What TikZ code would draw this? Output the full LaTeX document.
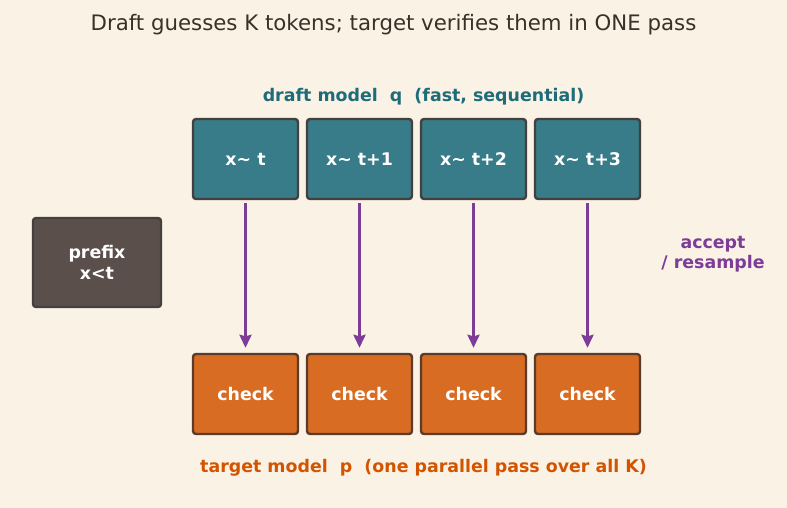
\documentclass[tikz,border=0pt]{standalone}
\usepackage{fontspec}
\setmainfont{DejaVu Sans}
\usetikzlibrary{arrows.meta}
\definecolor{bg}{HTML}{FAF2E4}
\definecolor{tealbox}{HTML}{377C88}
\definecolor{tealtxt}{HTML}{1E6B7A}
\definecolor{orangebox}{HTML}{D86C22}
\definecolor{orangetxt}{HTML}{D35400}
\definecolor{purp}{HTML}{7D3C98}
\definecolor{prefixbox}{HTML}{5B4F4B}
\definecolor{edge}{HTML}{444040}
\definecolor{edgeorange}{HTML}{5A3C2C}
\definecolor{titletxt}{HTML}{3A3028}
\tikzset{
  box/.style={draw=edge, line width=2.4pt, rounded corners=3pt, minimum width=105pt, minimum height=80pt, inner sep=0pt, text=white, font=\fontsize{17.4}{21}\selectfont\bfseries, align=center},
  draftbox/.style={box, fill=tealbox},
  checkbox/.style={box, fill=orangebox, draw=edgeorange},
  arr/.style={draw=purp, line width=2.6pt, -{Stealth[length=13pt,width=12pt,inset=1.5pt]}}
}
\begin{document}
\begin{tikzpicture}[x=1pt,y=-1pt]
\fill[bg] (0,0) rectangle (787,508);
\useasboundingbox (0,0) rectangle (787,508);
\node[text=titletxt, font=\fontsize{21.3}{25}\selectfont] (title) at (393.5,25) {Draft guesses K tokens; target verifies them in ONE pass};
\node[text=tealtxt, font=\fontsize{17.4}{21}\selectfont\bfseries] (dlabel) at (423.5,97) {draft model\ \ q\ \ (fast, sequential)};
\node[text=orangetxt, font=\fontsize{17.4}{21}\selectfont\bfseries] (tlabel) at (423.5,468) {target model\ \ p\ \ (one parallel pass over all K)};
\node[box, fill=prefixbox, draw=edge, minimum width=128pt, minimum height=89pt] (prefix) at (97,262.5) {prefix\\x<t};
\node[text=purp, font=\fontsize{17.4}{20}\selectfont\bfseries, align=center] (acc) at (713,254) {accept\\/ resample};
\node[draftbox] (d1) at (245.5,159) {x\char`~{} t};
\node[draftbox] (d2) at (359.5,159) {x\char`~{} t+1};
\node[draftbox] (d3) at (473.5,159) {x\char`~{} t+2};
\node[draftbox] (d4) at (587.5,159) {x\char`~{} t+3};
\node[checkbox] (c1) at (245.5,394) {check};
\node[checkbox] (c2) at (359.5,394) {check};
\node[checkbox] (c3) at (473.5,394) {check};
\node[checkbox] (c4) at (587.5,394) {check};
\foreach \i in {1,2,3,4}{
  \draw[arr] ([yshift=-3pt]d\i.south) -- ([yshift=5pt]c\i.north);
}
\end{tikzpicture}
\end{document}
